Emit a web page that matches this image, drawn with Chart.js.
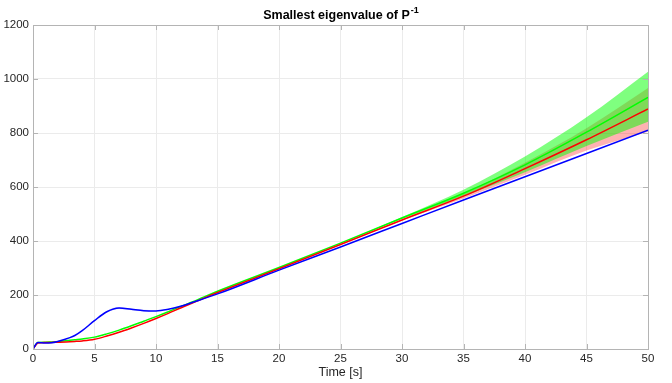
<!DOCTYPE html>
<html lang="en">
<head>
    <meta charset="UTF-8">
    <title>Smallest eigenvalue of P^-1</title>
    <script src="https://cdn.jsdelivr.net/npm/chart.js"></script>
    <style>
        body { margin: 0; background: #fff; }
        #wrap { width: 672px; height: 383px; position: relative; }
    </style>
</head>
<body>

<div id="wrap">
    <canvas id="eigChart"></canvas>
</div>

<script>
    // Time axis (s) shared by the three estimates
    const times = [0, 0.4, 1, 1.5, 2, 3, 3.4, 4, 5, 6, 7, 8, 9, 10, 11, 12, 13, 15, 20, 25, 30, 35, 40, 45, 50];
    const blueVals  = [0, 24, 22, 23, 28, 42, 50, 68, 105, 138, 152, 147, 142, 141, 147, 158, 173, 204, 292, 378, 465, 552, 638, 724, 810];
    const redVals   = [0, 22, 24, 24.5, 25, 27, 28, 30, 36, 48, 62, 78, 95, 113, 132, 152, 171, 209, 297, 387, 478, 566, 668, 775, 889];
    const greenVals = [0, 24, 25, 26, 27, 32, 34, 37, 44, 56, 70, 86, 103, 120, 138, 157, 175, 214, 302, 392, 485, 577, 682, 803, 932];

    // Uncertainty bands, only at the end of the run
    const bandTimes = [25, 30, 35, 40, 45, 50];
    const redLow    = [387, 475, 557, 645, 735, 805];
    const redHigh   = [387, 481, 576, 690, 818, 967];
    const greenLow  = [392, 482, 566, 655, 752, 842];
    const greenHigh = [392, 489, 590, 713, 858, 1027];

    // small blur around the blue bump
    const blueBandTimes = [4.5, 5.5, 6.5, 7, 7.5, 8.5, 9.5];
    const blueLow  = [86, 121, 145, 148, 146, 141, 139];
    const blueHigh = [90, 127, 152, 156, 153, 147, 144];

    const xTicks = [0, 5, 10, 15, 20, 25, 30, 35, 40, 45, 50];
    const yTicks = [0, 200, 400, 600, 800, 1000, 1200];

    const pts = (xs, ys) => xs.map((x, i) => ({ x: x, y: ys[i] }));

    const bandDs = (xs, ys, color, fill, order) => ({
        data: pts(xs, ys),
        borderWidth: 0,
        pointRadius: 0,
        backgroundColor: color,
        fill: fill,
        cubicInterpolationMode: 'monotone',
        order: order
    });

    const lineDs = (ys, color, order) => ({
        data: pts(times, ys),
        borderColor: color,
        borderWidth: 1.5,
        pointRadius: 0,
        fill: false,
        cubicInterpolationMode: 'monotone',
        order: order
    });

    // title with superscript + box + inward ticks (matlab look)
    const matlabLook = {
        id: 'matlabLook',
        afterDraw(chart) {
            const ctx = chart.ctx;
            const a = chart.chartArea;
            const xs = chart.scales.x, ys = chart.scales.y;
            ctx.save();
            ctx.strokeStyle = '#b4b4b4';
            ctx.lineWidth = 1;
            ctx.strokeRect(Math.round(a.left) + 0.5, Math.round(a.top) + 0.5,
                Math.round(a.right - a.left), Math.round(a.bottom - a.top));
            ctx.beginPath();
            xTicks.forEach(v => {
                const p = Math.round(xs.getPixelForValue(v)) + 0.5;
                ctx.moveTo(p, a.bottom); ctx.lineTo(p, a.bottom - 5);
                ctx.moveTo(p, a.top); ctx.lineTo(p, a.top + 5);
            });
            yTicks.forEach(v => {
                const p = Math.round(ys.getPixelForValue(v)) + 0.5;
                ctx.moveTo(a.left, p); ctx.lineTo(a.left + 5, p);
                ctx.moveTo(a.right, p); ctx.lineTo(a.right - 5, p);
            });
            ctx.stroke();

            const main = 'Smallest eigenvalue of P';
            const sup = '-1';
            ctx.fillStyle = '#000';
            ctx.textBaseline = 'alphabetic';
            ctx.font = 'bold 12.5px "Liberation Sans", Arial, sans-serif';
            const w1 = ctx.measureText(main).width;
            ctx.font = 'bold 9px "Liberation Sans", Arial, sans-serif';
            const w2 = ctx.measureText(sup).width;
            const x0 = (a.left + a.right) / 2 - (w1 + w2) / 2;
            ctx.font = 'bold 12.5px "Liberation Sans", Arial, sans-serif';
            ctx.fillText(main, x0, 19);
            ctx.font = 'bold 9px "Liberation Sans", Arial, sans-serif';
            ctx.fillText(sup, x0 + w1 + 1, 13);
            ctx.restore();
        }
    };

    const tickFont = { family: '"Liberation Sans", Arial, sans-serif', size: 11.5 };

    new Chart(document.getElementById('eigChart'), {
        type: 'line',
        data: {
            datasets: [
                bandDs(bandTimes, redLow, 'rgba(255,0,0,0.3)', false, 20),
                bandDs(bandTimes, redHigh, 'rgba(255,0,0,0.3)', '-1', 20),
                bandDs(bandTimes, greenLow, 'rgba(0,255,0,0.5)', false, 15),
                bandDs(bandTimes, greenHigh, 'rgba(0,255,0,0.5)', '-1', 15),
                bandDs(blueBandTimes, blueLow, 'rgba(0,0,255,0.2)', false, 12),
                bandDs(blueBandTimes, blueHigh, 'rgba(0,0,255,0.2)', '-1', 12),
                lineDs(greenVals, '#00ff00', 3),
                lineDs(redVals, '#ff0000', 2),
                lineDs(blueVals, '#0000ff', 1)
            ]
        },
        options: {
            responsive: true,
            maintainAspectRatio: false,
            animation: false,
            layout: { padding: { left: 0, right: 24, top: 25, bottom: 0 } },
            plugins: {
                legend: { display: false },
                tooltip: { enabled: false },
                title: { display: false }
            },
            scales: {
                x: {
                    type: 'linear',
                    min: 0,
                    max: 50,
                    afterBuildTicks: s => { s.ticks = xTicks.map(v => ({ value: v })); },
                    afterFit: s => { s.height = 34; },
                    grid: { color: '#ebebeb', drawTicks: false },
                    border: { color: '#b4b4b4' },
                    ticks: { color: '#262626', font: tickFont, padding: 3, maxRotation: 0,
                             callback: v => String(v) },
                    title: {
                        display: true,
                        text: 'Time [s]',
                        color: '#262626',
                        font: { family: '"Liberation Sans", Arial, sans-serif', size: 12.5 },
                        padding: { top: 0, bottom: 3 }
                    }
                },
                y: {
                    min: 0,
                    max: 1200,
                    afterBuildTicks: s => { s.ticks = yTicks.map(v => ({ value: v })); },
                    afterFit: s => { s.width = 33; },
                    grid: { color: '#ebebeb', drawTicks: false },
                    border: { color: '#b4b4b4' },
                    ticks: { color: '#262626', font: tickFont, padding: 4,
                             callback: v => String(v) }
                }
            }
        },
        plugins: [matlabLook]
    });
</script>

</body>
</html>
